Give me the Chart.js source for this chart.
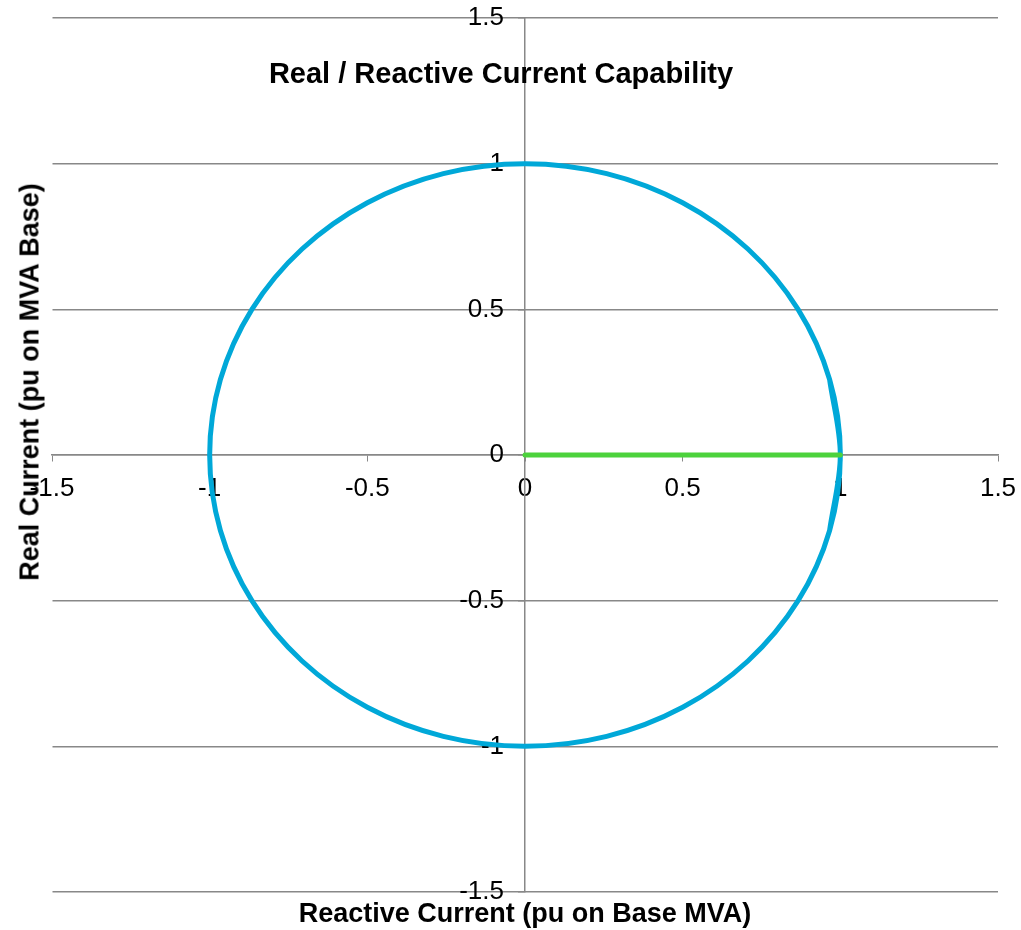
<!DOCTYPE html>
<html>
<head>
<meta charset="utf-8">
<script src="https://cdn.jsdelivr.net/npm/chart.js@4"></script>
<style>
  body { margin: 0; background: #fff; }
  #wrap { position: relative; width: 1021px; height: 930px; font-family: "Liberation Sans", Arial, sans-serif; }
  .ttl { position: absolute; font-weight: bold; color: #000; white-space: nowrap; }
  #main-title { left: 501px; top: 73px; font-size: 29px; transform: translate(-50%, -50%); }
  #x-title { left: 525px; top: 913px; font-size: 27px; transform: translate(-50%, -50%); }
  #y-title { left: 30px; top: 382px; font-size: 27px; transform: translate(-50%, -50%) rotate(-90deg); }
</style>
</head>
<body>
<div id="wrap">
  <canvas id="js--chart"></canvas>
  <div class="ttl" id="main-title">Real / Reactive Current Capability</div>
  <div class="ttl" id="x-title">Reactive Current (pu on Base MVA)</div>
  <div class="ttl" id="y-title">Real Current (pu on MVA Base)</div>
</div>
<script>
// capability circle, read every 15 degrees (one step of overlap at each end so it closes smoothly)
const circleX = [0.966, 1, 0.966, 0.866, 0.707, 0.5, 0.259, 0, -0.259, -0.5, -0.707, -0.866, -0.966, -1,
  -0.966, -0.866, -0.707, -0.5, -0.259, 0, 0.259, 0.5, 0.707, 0.866, 0.966, 1, 0.966];
const circleY = [-0.259, 0, 0.259, 0.5, 0.707, 0.866, 0.966, 1, 0.966, 0.866, 0.707, 0.5, 0.259, 0,
  -0.259, -0.5, -0.707, -0.866, -0.966, -1, -0.966, -0.866, -0.707, -0.5, -0.259, 0, 0.259];

// reactive range line
const lineX = [0, 1];
const lineY = [0, 0];

const axisMin = -1.5;
const axisMax = 1.5;
const axisStep = 0.5;

function toPoints(xs, ys) {
  return xs.map((x, i) => ({ x: x, y: ys[i] }));
}

function fmt(v) {
  return String(Math.round(v * 10) / 10);
}

// no size and no edge padding for the axes, they sit inside the plot
function flatAxis(scale) {
  if (scale.isHorizontal()) scale.height = 0;
  else scale.width = 0;
  scale.paddingTop = 0;
  scale.paddingBottom = 0;
  scale.paddingLeft = 0;
  scale.paddingRight = 0;
}

const data = {
  datasets: [
    {
      label: "Capability",
      data: toPoints(circleX, circleY),
      borderColor: "#00A8D8",
      borderWidth: 5,
      tension: 0.34,
      pointRadius: 0,
      showLine: true,
      order: 2,
    },
    {
      label: "Reactive",
      data: toPoints(lineX, lineY),
      borderColor: "#4CD23C",
      borderWidth: 5,
      borderCapStyle: "round",
      pointRadius: 0,
      showLine: true,
      order: 1,
    },
  ],
};

const tickFont = { family: "'Liberation Sans', Arial, sans-serif", size: 26 };

// put the y axis on x = 0 (labels stay on its left side)
const crossAxis = {
  id: "crossAxis",
  afterLayout(chart) {
    const ys = chart.scales.y;
    const x0 = chart.scales.x.getPixelForValue(0);
    ys.left = 0;
    ys.right = x0;
  },
};

const config = {
  type: "scatter",
  data: data,
  plugins: [crossAxis],
  options: {
    responsive: true,
    maintainAspectRatio: false,
    animation: false,
    layout: { autoPadding: false, padding: { left: 52, right: 23, top: 18, bottom: 38 } },
    plugins: { legend: { display: false }, tooltip: { enabled: false } },
    scales: {
      x: {
        type: "linear",
        min: axisMin,
        max: axisMax,
        position: { y: 0 },
        afterFit: flatAxis,
        ticks: { stepSize: axisStep, color: "#000", font: tickFont, padding: 12, maxRotation: 0, callback: fmt },
        grid: { drawOnChartArea: false, color: "#888", tickLength: 6 },
        border: { color: "#888", width: 1.5 },
      },
      y: {
        type: "linear",
        min: axisMin,
        max: axisMax,
        position: "left",
        afterFit: flatAxis,
        ticks: { stepSize: axisStep, color: "#000", font: tickFont, padding: 14, callback: fmt },
        grid: { color: "#888", lineWidth: 1.5, tickLength: 7 },
        border: { color: "#888", width: 1.5 },
      },
    },
  },
};

new Chart(document.getElementById("js--chart"), config);
</script>
</body>
</html>
